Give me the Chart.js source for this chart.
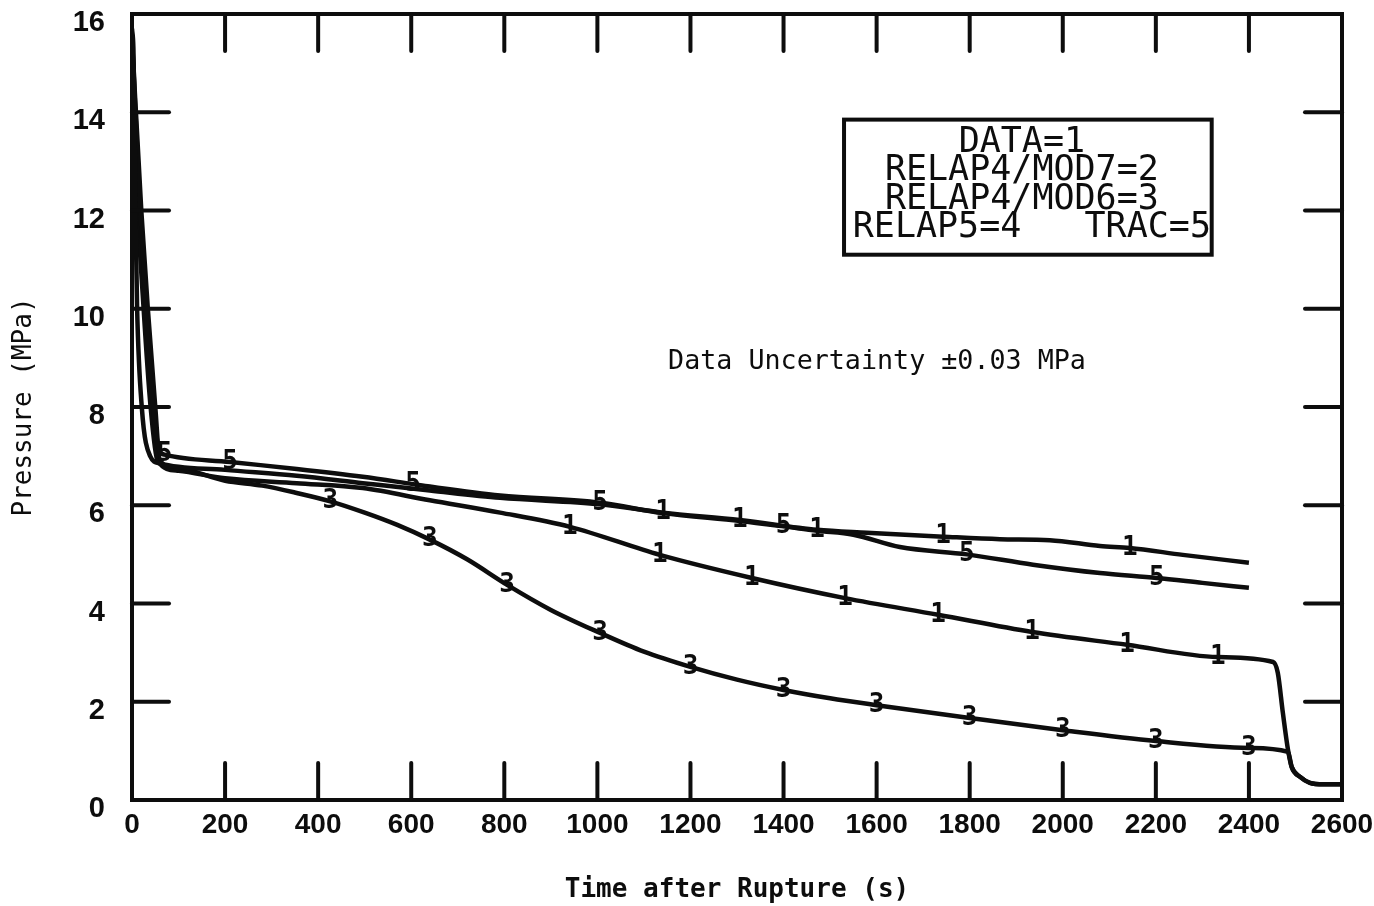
<!DOCTYPE html>
<html>
<head>
<meta charset="utf-8">
<script src="https://cdn.jsdelivr.net/npm/chart.js@4/dist/chart.umd.min.js"></script>
<style>
  html, body { margin: 0; padding: 0; background: #ffffff; }
  #wrap { position: relative; width: 1374px; height: 906px; }
</style>
</head>
<body>
<div id="wrap"><canvas id="c" width="1374" height="906"></canvas></div>
<script>
// ---------------- data ----------------
const xTicks = [0,200,400,600,800,1000,1200,1400,1600,1800,2000,2200,2400,2600];
const yTicks = [0,2,4,6,8,10,12,14,16];

// DATA = 1 (upper curve, ends at 2400 s)
const dataT = [0,3,5,7,11,21,39,60,200,354,496,640,791,1006,1141,1306,1472,1579,1743,1865,1972,2080,2144,2258,2400];
const dataP = [15.7,15.3,14.2,12.2,10.0,8.0,7.0,6.85,6.72,6.6,6.45,6.3,6.15,6.02,5.85,5.70,5.50,5.44,5.36,5.31,5.29,5.17,5.13,4.99,4.83];
const dataMarks = [1141,1306,1472,1743,2144];

// TRAC = 5
const tracT = [0,15,30,45,60,70,211,354,496,604,640,791,1006,1141,1306,1400,1472,1550,1650,1794,1936,2080,2202,2300,2400];
const tracP = [15.5,12.5,10.0,8.0,7.1,7.03,6.88,6.74,6.58,6.43,6.38,6.2,6.05,5.84,5.68,5.57,5.48,5.40,5.15,5.0,4.79,4.62,4.52,4.42,4.32];
const tracMarks = [70,211,604,1006,1400,1794,2202];

// RELAP5 = 4 (middle curve with the late drop)
const r5T = [0,10,25,40,55,100,200,354,496,640,791,941,1134,1332,1532,1732,1934,2138,2333,2452,2462,2473,2484,2492,2510,2531,2560,2600];
const r5P = [15.5,12.5,10.0,8.0,6.9,6.7,6.55,6.45,6.35,6.1,5.85,5.56,4.99,4.52,4.11,3.77,3.42,3.16,2.91,2.81,2.59,1.77,1.02,0.67,0.47,0.35,0.32,0.32];
const r5Marks = [941,1134,1332,1532,1732,1934,2138,2333];

// RELAP4/MOD6 = 3 (lowest curve)
const m6T = [0,20,34,50,60,100,200,280,354,426,500,570,640,720,806,900,1006,1100,1200,1300,1400,1500,1600,1800,2000,2200,2400,2484,2492,2510,2531,2560,2600];
const m6P = [15.5,12.0,10.0,8.0,6.9,6.75,6.5,6.4,6.25,6.08,5.85,5.6,5.3,4.9,4.38,3.87,3.40,3.02,2.71,2.45,2.24,2.07,1.93,1.67,1.42,1.2,1.06,0.98,0.67,0.47,0.35,0.32,0.32];
const m6Marks = [426,640,806,1006,1200,1400,1600,1800,2000,2200,2400];

const legendLines = ["DATA=1","RELAP4/MOD7=2","RELAP4/MOD6=3","RELAP5=4   TRAC=5"];
const noteText = "Data Uncertainty \u00B10.03 MPa";

// ---------------- chart ----------------
function pts(t, p) { return t.map((v, i) => ({x: v, y: p[i]})); }
const INK = '#0d0d0d';
function lineDs(label, t, p, marks, glyph) {
  return {
    label, data: pts(t, p), marks, glyph,
    borderColor: INK, borderWidth: 4.5, pointRadius: 0,
    cubicInterpolationMode: 'monotone', fill: false
  };
}

const mono = '"DejaVu Sans Mono", "Liberation Mono", monospace';
const sansB = '"Liberation Sans", Arial, sans-serif';

const overlay = {
  id: 'overlay',
  afterDatasetsDraw(chart) {
    const ctx = chart.ctx;
    const a = chart.chartArea;
    const xs = chart.scales.x, ys = chart.scales.y;
    ctx.save();
    // frame
    ctx.strokeStyle = INK;
    ctx.lineWidth = 4;
    ctx.strokeRect(a.left, a.top, a.right - a.left, a.bottom - a.top);
    // inward ticks on all four sides
    ctx.lineWidth = 4;
    ctx.lineCap = 'round';
    const TL = 37;
    xTicks.slice(1, -1).forEach(v => {
      const px = xs.getPixelForValue(v);
      ctx.beginPath(); ctx.moveTo(px, a.bottom); ctx.lineTo(px, a.bottom - TL); ctx.stroke();
      ctx.beginPath(); ctx.moveTo(px, a.top); ctx.lineTo(px, a.top + TL); ctx.stroke();
    });
    yTicks.slice(1, -1).forEach(v => {
      const py = ys.getPixelForValue(v);
      ctx.beginPath(); ctx.moveTo(a.left, py); ctx.lineTo(a.left + TL, py); ctx.stroke();
      ctx.beginPath(); ctx.moveTo(a.right, py); ctx.lineTo(a.right - TL, py); ctx.stroke();
    });
    // curve markers
    ctx.fillStyle = INK;
    ctx.font = 'bold 26px ' + mono;
    ctx.textAlign = 'center';
    ctx.textBaseline = 'middle';
    chart.data.datasets.forEach((ds, di) => {
      const meta = chart.getDatasetMeta(di);
      ds.marks.forEach(m => {
        const idx = ds.data.findIndex(p => p.x === m);
        if (idx < 0) return;
        const el = meta.data[idx];
        ctx.fillText(ds.glyph, el.x, el.y);
      });
    });
    // legend box
    const bx = xs.getPixelForValue(1530), by = ys.getPixelForValue(13.85);
    const bx2 = xs.getPixelForValue(2320), by2 = ys.getPixelForValue(11.1);
    ctx.lineWidth = 4;
    ctx.lineCap = 'butt';
    ctx.strokeRect(bx, by, bx2 - bx, by2 - by);
    ctx.font = '35px ' + mono;
    ctx.textBaseline = 'alphabetic';
    const cx = (bx + bx2) / 2;
    legendLines.forEach((s, i) => {
      const off = i === 3 ? 4 : -6;
      ctx.fillText(s, cx + off, by + 32 + i * 28.5);
    });
    // note
    ctx.font = '26.7px ' + mono;
    ctx.textAlign = 'left';
    ctx.fillText(noteText, xs.getPixelForValue(1152), ys.getPixelForValue(8.78));
    ctx.restore();
  }
};

new Chart(document.getElementById('c'), {
  type: 'line',
  data: {
    datasets: [
      lineDs('DATA', dataT, dataP, dataMarks, '1'),
      lineDs('TRAC', tracT, tracP, tracMarks, '5'),
      lineDs('RELAP5', r5T, r5P, r5Marks, '1'),
      lineDs('RELAP4/MOD6', m6T, m6P, m6Marks, '3')
    ]
  },
  options: {
    responsive: false,
    animation: false,
    devicePixelRatio: 1,
    layout: { padding: { top: 14, right: 32, left: 0, bottom: 0 } },
    plugins: { legend: { display: false }, tooltip: { enabled: false } },
    scales: {
      x: {
        type: 'linear', min: 0, max: 2600,
        afterBuildTicks(s) { s.ticks = xTicks.map(v => ({value: v})); },
        afterFit(s) { s.height = 106; },
        grid: { display: false, drawTicks: true, tickLength: 11 },
        border: { display: false },
        ticks: { color: INK, padding: 0, maxRotation: 0, autoSkip: false,
                 callback: v => String(v),
                 font: { family: sansB, size: 28, weight: 'bold', lineHeight: 1 } },
        title: { display: true, text: 'Time after Rupture (s)', color: INK,
                 padding: { top: 6, bottom: 0 },
                 font: { family: mono, size: 26, weight: 'bold', lineHeight: 1.2 } }
      },
      y: {
        type: 'linear', min: 0, max: 16,
        afterBuildTicks(s) { s.ticks = yTicks.map(v => ({value: v})); },
        afterFit(s) { s.width = 132; },
        grid: { display: false, drawTicks: true, tickLength: 27 },
        border: { display: false },
        ticks: { color: INK, padding: 0, labelOffset: 9, autoSkip: false,
                 callback: v => String(v),
                 font: { family: sansB, size: 29, weight: 'bold', lineHeight: 0.9 } },
        title: { display: true, text: 'Pressure (MPa)', color: INK,
                 padding: { top: 9, bottom: 0 },
                 font: { family: mono, size: 26, weight: 'normal', lineHeight: 1.2 } }
      }
    }
  },
  plugins: [overlay]
});
</script>
</body>
</html>
